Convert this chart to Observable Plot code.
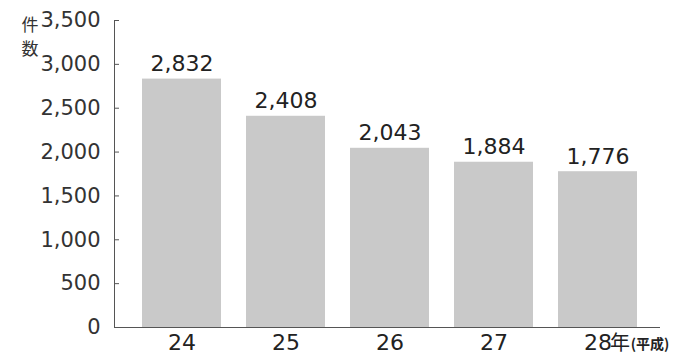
<!DOCTYPE html>
<html><head><meta charset="utf-8">
<script src="https://cdn.jsdelivr.net/npm/d3@7"></script>
<script src="https://cdn.jsdelivr.net/npm/@observablehq/plot@0.6"></script>
<style>body{margin:0;background:#fff}</style>
</head><body><div id="chart"></div>
<script>
const years = ["24", "25", "26", "27", "28"];
const counts = [2832, 2408, 2043, 1884, 1776];
const yTicks = [0, 500, 1000, 1500, 2000, 2500, 3000, 3500];
const data = years.map((y, i) => ({year: y, count: counts[i]}));
const fmt = d3.format(",");
const cjk = "'Noto Sans CJK JP', sans-serif";

const chart = Plot.plot({
  width: 691, height: 357,
  marginLeft: 114, marginRight: 31, marginTop: 20, marginBottom: 30,
  style: {fontFamily: "'DejaVu Sans', sans-serif", fontSize: "22px", color: "#222", background: "#fff"},
  x: {domain: years, paddingInner: 0.24, paddingOuter: 0.12, insetLeft: 16, insetRight: 10, label: null},
  y: {domain: [0, 3500], label: null},
  marks: [
    Plot.barY(data, {x: "year", y: "count", fill: "#c9c9c9"}),
    Plot.frame({anchor: "left", stroke: "#555"}),
    Plot.ruleY([0], {stroke: "#555"}),
    Plot.axisY({ticks: yTicks, tickFormat: fmt, tickSize: -5, tickPadding: 19, stroke: "#555", fontSize: 21, fill: "#333"}),
    Plot.axisX({tickSize: 0, tickPadding: 7, fontSize: 22, fill: "#222"}),
    Plot.text(data, {x: "year", y: "count", text: d => fmt(d.count), dy: -15, fontSize: 22, fill: "#222"}),
    Plot.text(["年"], {x: () => "28", y: () => 0, text: d => d, dx: 22, dy: 16, fontSize: 20, fontFamily: cjk, fill: "#222"}),
    Plot.text(["(平成)"], {x: () => "28", y: () => 0, text: d => d, dx: 52, dy: 17, fontSize: 14, fontFamily: cjk, fontWeight: "bold", fill: "#222"}),
    Plot.text(["件"], {frameAnchor: "top-left", text: d => d, dx: -93, dy: -2, fontSize: 17, fontFamily: cjk, fill: "#333"}),
    Plot.text(["数"], {frameAnchor: "top-left", text: d => d, dx: -93, dy: 22, fontSize: 17, fontFamily: cjk, fill: "#333"})
  ]
});
document.getElementById("chart").append(chart);
</script>
</body></html>
